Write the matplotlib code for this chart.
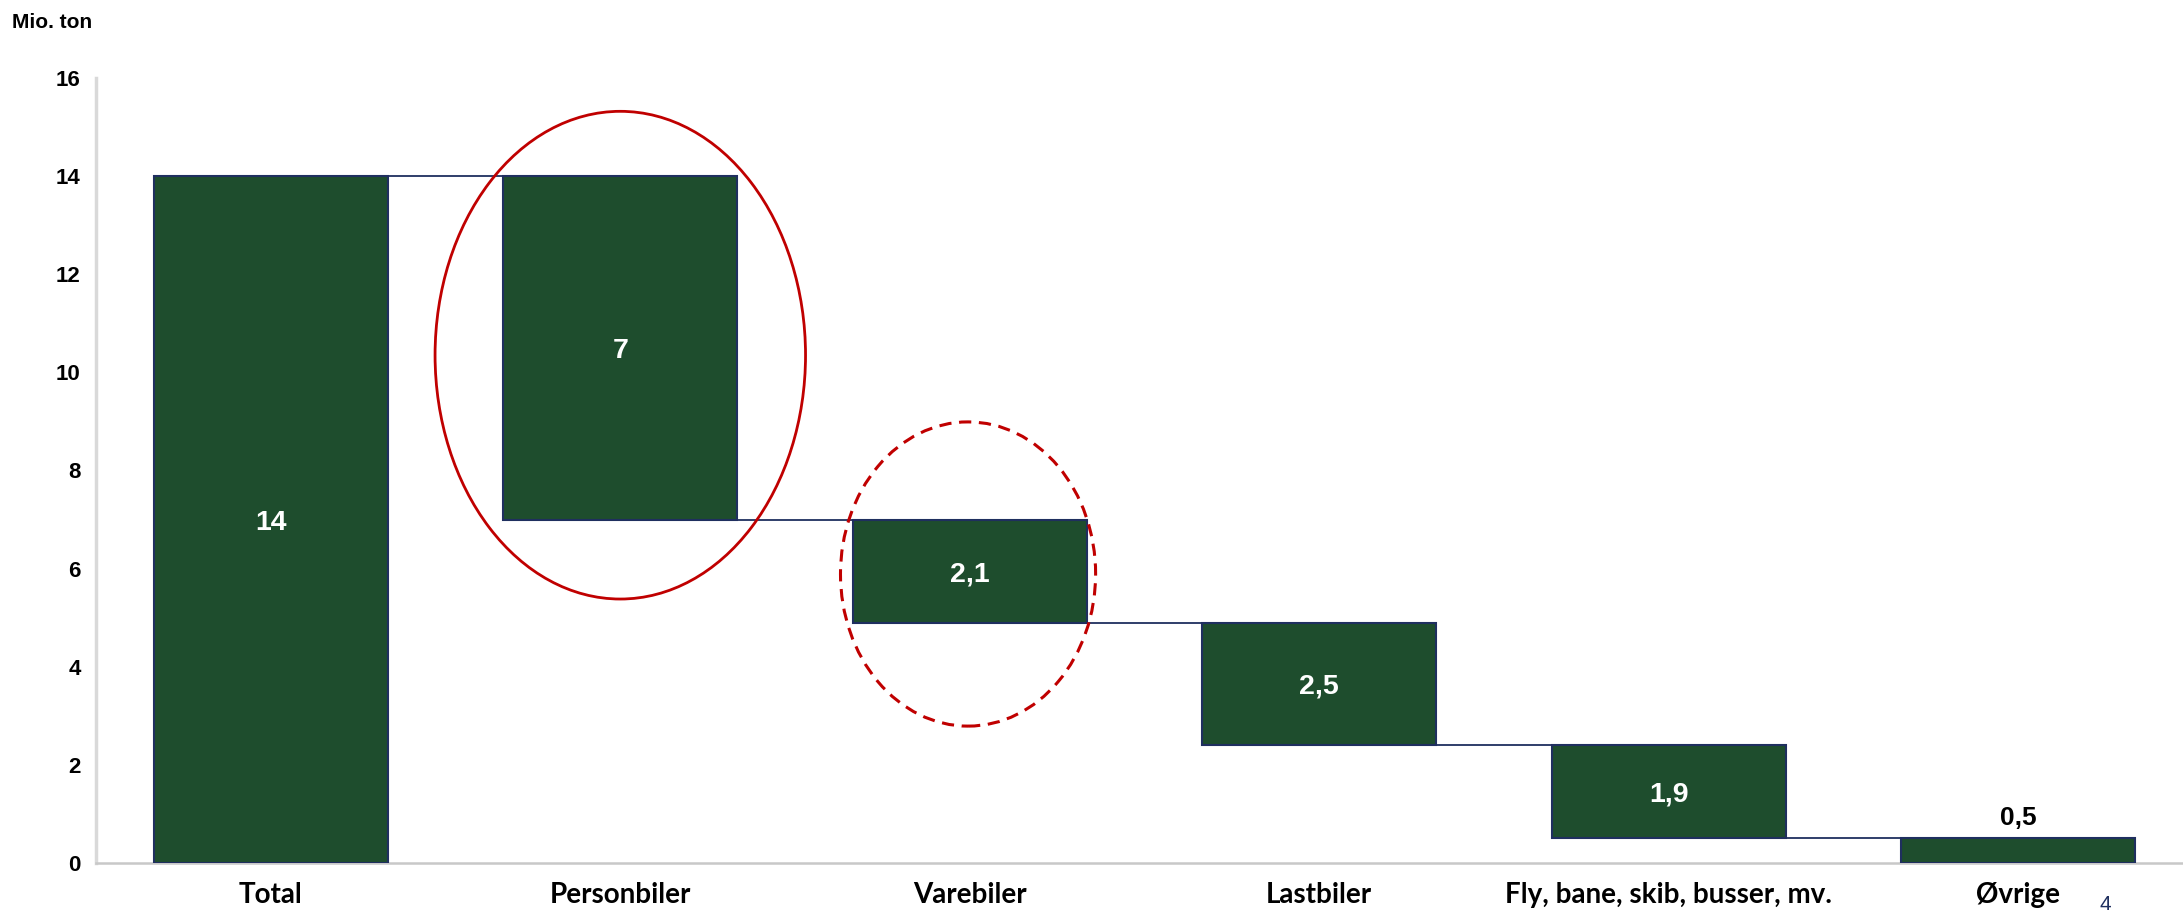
import matplotlib
matplotlib.use("Agg")
import matplotlib.pyplot as plt
from matplotlib.patches import Ellipse

# Data (million tonnes)
categories = ["Total", "Personbiler", "Varebiler", "Lastbiler",
              "Fly, bane, skib, busser, mv.", "Øvrige"]
values = [14, 7, 2.1, 2.5, 1.9, 0.5]
value_labels = ["14", "7", "2,1", "2,5", "1,9", "0,5"]
yticks = [0, 2, 4, 6, 8, 10, 12, 14, 16]

GREEN = "#1E4D2D"
NAVY = "#1F2F5F"
RED = "#C00000"

# Waterfall: total first, then the parts stacked downward from the top
bottoms, tops = [], []
level = values[0]
bottoms.append(0)
tops.append(values[0])
for v in values[1:]:
    tops.append(level)
    level = round(level - v, 6)
    bottoms.append(level)
heights = [t - b for t, b in zip(tops, bottoms)]

fig = plt.figure(figsize=(21.83, 9.14), dpi=100)
ax = fig.add_axes([0.044, 0.0558, 0.9606, 0.8589])

x = list(range(len(categories)))
width = 0.67
ax.bar(x, heights, bottom=bottoms, width=width, color=GREEN,
       edgecolor=NAVY, linewidth=1.5, zorder=3)

# Connector lines between neighbouring bars
for i in range(len(categories) - 1):
    yline = bottoms[i] if i > 0 else tops[i]
    ax.plot([i + width / 2, i + 1 - width / 2], [yline, yline],
            color=NAVY, linewidth=1.3, zorder=2)

# Value labels
for i, lab in enumerate(value_labels):
    if heights[i] < 1:
        ax.annotate(lab, (i, tops[i]), xytext=(0, 6), textcoords="offset points",
                    ha="center", va="bottom", fontsize=19, fontweight="bold",
                    color="black", family="Liberation Sans", zorder=4)
    else:
        ax.text(i, (tops[i] + bottoms[i]) / 2, lab, ha="center",
                va="center_baseline", fontsize=20.5, fontweight="bold",
                color="white", family="Liberation Sans", zorder=4)

# Highlight ellipses
ax.add_patch(Ellipse((1.0, 10.35), 1.06, 9.94, fill=False, edgecolor=RED,
                     linewidth=2.0, zorder=5))
ax.add_patch(Ellipse((1.995, 5.89), 0.73, 6.2, fill=False, edgecolor=RED,
                     linewidth=2.2, linestyle=(0, (4, 2.5)), zorder=5))

ax.set_xlim(-0.5, 5.5)
ax.set_ylim(0, 16)
ax.set_yticks(yticks)
ax.set_yticklabels([str(t) for t in yticks], fontsize=16, fontweight="bold",
                   family="Liberation Sans")
ax.set_xticks(x)
ax.set_xticklabels(categories, fontsize=20, fontweight="bold", family="Lato")
ax.tick_params(axis="both", length=0)
ax.tick_params(axis="y", pad=11)
ax.tick_params(axis="x", pad=14)

for s in ["top", "right"]:
    ax.spines[s].set_visible(False)
ax.spines["left"].set_color("#D9D9D9")
ax.spines["left"].set_linewidth(2.5)
ax.spines["bottom"].set_color("#C8C8C8")
ax.spines["bottom"].set_linewidth(1.8)

fig.text(12 / 2183, 1 - 22 / 914, "Mio. ton", fontsize=15, fontweight="bold",
         family="Liberation Sans", ha="left", va="center")
fig.text(2105 / 2183, 1 - 905 / 914, "4", fontsize=15, color="#1F2F5F",
         family="Liberation Sans", ha="center", va="center")

fig.savefig("out.png", dpi=100)
